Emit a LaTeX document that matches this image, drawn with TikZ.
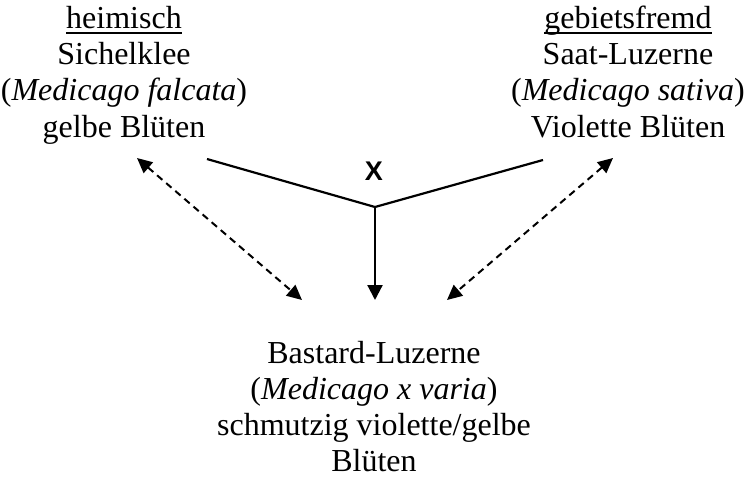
\documentclass[tikz,border=0pt]{standalone}
\usepackage{fontspec}
\setmainfont{Liberation Serif}
\newfontfamily\xsans{Liberation Sans}
\usetikzlibrary{arrows.meta}
\begin{document}
\begin{tikzpicture}[x=1pt,y=-1pt,
  txt/.style={font=\fontsize{32}{36}\selectfont, inner sep=0pt, anchor=base},
  solidline/.style={line width=2.2pt, line cap=butt},
  tipsty/.style={-{Triangle[length=15pt,width=15pt]}},
  dashline/.style={line width=2pt, dash pattern=on 7pt off 5pt,
     {Triangle[length=15pt,width=14pt]}-{Triangle[length=15pt,width=14pt]}},
  uline/.style={line width=2pt}]
\useasboundingbox (0,0) rectangle (750,477);
% left block
\node[txt] (l1) at (124,28) {heimisch};
\node[txt] (l2) at (124,64) {Sichelklee};
\node[txt] (l3) at (124,100) {(\textit{Medicago falcata})};
\node[txt] (l4) at (124,137) {gelbe Blüten};
% right block
\node[txt] (r1) at (628,28) {gebietsfremd};
\node[txt] (r2) at (628,64) {Saat-Luzerne};
\node[txt] (r3) at (628,100) {(\textit{Medicago sativa})};
\node[txt] (r4) at (628,137) {Violette Blüten};
% bottom block
\node[txt] (b1) at (374,363) {Bastard-Luzerne};
\node[txt] (b2) at (374,399) {(\textit{Medicago x varia})};
\node[txt] (b3) at (374,435) {schmutzig violette/gelbe};
\node[txt] (b4) at (374,471) {Blüten};
% underlines
\draw[uline] ([yshift=-5pt]l1.base west) -- ([yshift=-5pt]l1.base east);
\draw[uline] ([yshift=-5pt]r1.base west) -- ([yshift=-5pt]r1.base east);
% cross
\node[font=\xsans\bfseries\fontsize{27}{30}\selectfont, inner sep=0pt, anchor=base] (x) at (374,180) {X};
\coordinate (a) at (207,159);
\coordinate (b) at (543,160);
\coordinate (j) at (375,207);
\coordinate (t) at (375,300);
\draw[solidline] (a) -- (j) -- (b);
\draw[solidline,tipsty] (j) -- (t);
% dashed relations
\coordinate (dl1) at (137,158);
\coordinate (dl2) at (302,300);
\coordinate (dr1) at (613,158);
\coordinate (dr2) at (447,300);
\draw[dashline] (dl1) -- (dl2);
\draw[dashline] (dr1) -- (dr2);
\end{tikzpicture}
\end{document}
